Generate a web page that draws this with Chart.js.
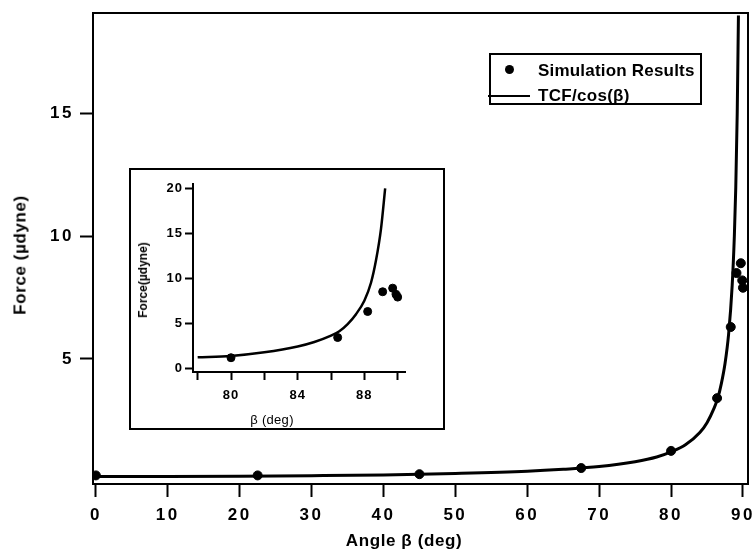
<!DOCTYPE html>
<html>
<head>
<meta charset="utf-8">
<script src="https://cdn.jsdelivr.net/npm/chart.js@4.4.1/dist/chart.umd.min.js"></script>
<style>
  html, body { margin: 0; padding: 0; background: #fff; }
  body { width: 756px; height: 555px; position: relative; overflow: hidden; font-family: "Liberation Sans", Arial, sans-serif; color: #000; }
  #mainWrap { position: absolute; left: 0; top: 0; width: 756px; height: 555px; }
  #insetWrap { position: absolute; left: 129px; top: 168px; width: 312px; height: 258px; border: 2px solid #000; background: #fff; }
  .lbl { position: absolute; white-space: nowrap; line-height: 1; }
  #xTitle { left: 404px; top: 540px; transform: translate(-50%, -50%); font-weight: bold; font-size: 17px; letter-spacing: 0.6px; }
  #yTitle { left: 20px; top: 255px; transform: translate(-50%, -50%) rotate(-90deg); font-weight: bold; font-size: 17px; letter-spacing: 0.6px; }
  #ixTitle { left: 141px; top: 249px; transform: translate(-50%, -50%); font-size: 13px; letter-spacing: 0.3px; }
  #iyTitle { left: 12px; top: 110px; transform: translate(-50%, -50%) rotate(-90deg); font-weight: bold; font-size: 12px; }
  #legend { position: absolute; left: 489px; top: 53px; width: 209px; height: 48px; border: 2px solid #000; background: #fff; }
  #legend .dot { position: absolute; left: 14px; top: 10px; width: 9px; height: 9px; border-radius: 50%; background: #000; }
  #legend .line { position: absolute; left: -3px; top: 40px; width: 42px; height: 2px; background: #000; }
  #legend .t1 { position: absolute; left: 47px; top: 6px; font-weight: bold; font-size: 17px; letter-spacing: 0.2px; }
  #legend .t2 { position: absolute; left: 47px; top: 31px; font-weight: bold; font-size: 17px; letter-spacing: 0.3px; }
</style>
</head>
<body>
<div id="mainWrap"><canvas id="main" width="756" height="555"></canvas></div>
<div class="lbl" id="xTitle">Angle β (deg)</div>
<div class="lbl" id="yTitle">Force (µdyne)</div>
<div id="legend">
  <div class="dot"></div><div class="t1">Simulation Results</div>
  <div class="line"></div><div class="t2">TCF/cos(β)</div>
</div>
<div id="insetWrap">
  <canvas id="inset" width="312" height="258"></canvas>
  <div class="lbl" id="ixTitle">β (deg)</div>
  <div class="lbl" id="iyTitle">Force(µdyne)</div>
</div>
<script>
// ---- Data ----
// Main panel: simulation results
const simBeta  = [0,    22.5, 45,   67.5, 80,   86.4, 88.3, 89.1, 89.7, 89.9, 90.0];
const simForce = [0.25, 0.25, 0.3,  0.55, 1.25, 3.4,  6.3,  8.5,  8.9,  8.2,  7.9];
// Main panel: TCF/cos(beta) curve
const curveBeta  = [-0.4, 10,   20,   30,   40,   50,   60,   65,  70,   75,   78,  80,   82,  84,  85,  86,  86.5, 87,  87.5, 88,  88.5, 88.8, 89.0, 89.2, 89.37];
const curveForce = [0.21, 0.21, 0.22, 0.24, 0.27, 0.33, 0.42, 0.5, 0.61, 0.81, 1.0, 1.21, 1.5, 2.0, 2.4, 3.0, 3.4,  4.0, 4.8,  6.0, 8.0,  10.0, 12.0, 15.0, 19.0];
// Inset panel
const insetSimBeta  = [80,   86.4, 88.2, 89.1, 89.7, 89.9, 90.0];
const insetSimForce = [1.15, 3.4,  6.3,  8.5,  8.9,  8.2,  7.9];
const insetCurveBeta  = [78,  80,   82,   84,  85,  86,  86.5, 87,  87.5, 88,  88.4, 88.7, 89.0, 89.25];
const insetCurveForce = [1.2, 1.35, 1.75, 2.4, 2.9, 3.6, 4.1,  4.9, 6.0,  7.5, 9.5,  12.0, 15.5, 20.0];
// Tick labels
const mainXTicks = [0, 10, 20, 30, 40, 50, 60, 70, 80, 90];
const mainYTicks = [5, 10, 15];
const insetXTicks = [78, 80, 82, 84, 86, 88, 90];
const insetXLabelled = [80, 84, 88];
const insetYTicks = [0, 5, 10, 15, 20];

const pts = (xs, ys) => xs.map((x, i) => ({ x: x, y: ys[i] }));
const FONT = '"Liberation Sans", Arial, sans-serif';

const framePlugin = {
  id: 'frame',
  afterDraw(chart) {
    const a = chart.chartArea, ctx = chart.ctx;
    ctx.save();
    ctx.strokeStyle = '#000';
    ctx.lineWidth = 2;
    ctx.strokeRect(a.left, a.top, a.right - a.left, a.bottom - a.top);
    ctx.restore();
  }
};
const spacingPlugin = (px) => ({
  id: 'spacing',
  beforeLayout(chart) { chart.ctx.letterSpacing = px; },
  beforeDraw(chart) { chart.ctx.letterSpacing = px; }
});
const noPad = s => { s.paddingLeft = 0; s.paddingRight = 0; s.paddingTop = 0; s.paddingBottom = 0; };

new Chart(document.getElementById('main'), {
  type: 'scatter',
  data: {
    datasets: [
      { label: 'Simulation Results', data: pts(simBeta, simForce), backgroundColor: '#000', borderColor: '#000', pointRadius: 4.5, pointHoverRadius: 4.5, showLine: false },
      { label: 'TCF/cos(β)', data: pts(curveBeta, curveForce), borderColor: '#000', borderWidth: 3, pointRadius: 0, showLine: true, cubicInterpolationMode: 'monotone', fill: false }
    ]
  },
  options: {
    responsive: false,
    animation: false,
    events: [],
    layout: { padding: { left: 0, right: 8, top: 13, bottom: 0 } },
    plugins: { legend: { display: false }, tooltip: { enabled: false } },
    scales: {
      x: {
        type: 'linear', min: -0.4, max: 90.7,
        afterBuildTicks: s => { s.ticks = mainXTicks.map(v => ({ value: v })); },
        afterFit: s => { s.height = 71; noPad(s); },
        grid: { drawOnChartArea: false, drawTicks: true, tickLength: 13, tickWidth: 2, tickColor: '#000' },
        border: { display: true, color: '#000', width: 2 },
        ticks: { color: '#000', padding: 8, font: { family: FONT, size: 17, weight: 'bold' }, maxRotation: 0, autoSkip: false }
      },
      y: {
        type: 'linear', min: -0.1, max: 19.1,
        afterBuildTicks: s => { s.ticks = mainYTicks.map(v => ({ value: v })); },
        afterFit: s => { s.width = 93; noPad(s); },
        grid: { drawOnChartArea: false, drawTicks: true, tickLength: 13, tickWidth: 2, tickColor: '#000' },
        border: { display: true, color: '#000', width: 2 },
        ticks: { color: '#000', padding: 6, font: { family: FONT, size: 17, weight: 'bold' }, autoSkip: false }
      }
    }
  },
  plugins: [spacingPlugin('2.5px'), framePlugin]
});

new Chart(document.getElementById('inset'), {
  type: 'scatter',
  data: {
    datasets: [
      { label: 'Simulation Results', data: pts(insetSimBeta, insetSimForce), backgroundColor: '#000', borderColor: '#000', pointRadius: 4, pointHoverRadius: 4, showLine: false },
      { label: 'TCF/cos(β)', data: pts(insetCurveBeta, insetCurveForce), borderColor: '#000', borderWidth: 2.5, pointRadius: 0, showLine: true, cubicInterpolationMode: 'monotone', fill: false }
    ]
  },
  options: {
    responsive: false,
    animation: false,
    events: [],
    layout: { padding: { left: 0, right: 38, top: 14, bottom: 0 } },
    plugins: { legend: { display: false }, tooltip: { enabled: false } },
    scales: {
      x: {
        type: 'linear', min: 77.72, max: 90.44,
        afterBuildTicks: s => { s.ticks = insetXTicks.map(v => ({ value: v })); },
        afterFit: s => { s.height = 56; noPad(s); },
        grid: { drawOnChartArea: false, drawTicks: true, tickLength: 8, tickWidth: 2, tickColor: '#000' },
        border: { display: true, color: '#000', width: 2 },
        ticks: { color: '#000', padding: 8, font: { family: FONT, size: 13, weight: 'bold' }, maxRotation: 0, autoSkip: false,
                 callback: v => insetXLabelled.includes(v) ? String(v) : '' }
      },
      y: {
        type: 'linear', min: -0.44, max: 20.5,
        afterBuildTicks: s => { s.ticks = insetYTicks.map(v => ({ value: v })); },
        afterFit: s => { s.width = 62; noPad(s); },
        grid: { drawOnChartArea: false, drawTicks: true, tickLength: 8, tickWidth: 2, tickColor: '#000' },
        border: { display: true, color: '#000', width: 2 },
        ticks: { color: '#000', padding: 2, font: { family: FONT, size: 13, weight: 'bold' }, autoSkip: false }
      }
    }
  },
  plugins: [spacingPlugin('1px')]
});
</script>
</body>
</html>
